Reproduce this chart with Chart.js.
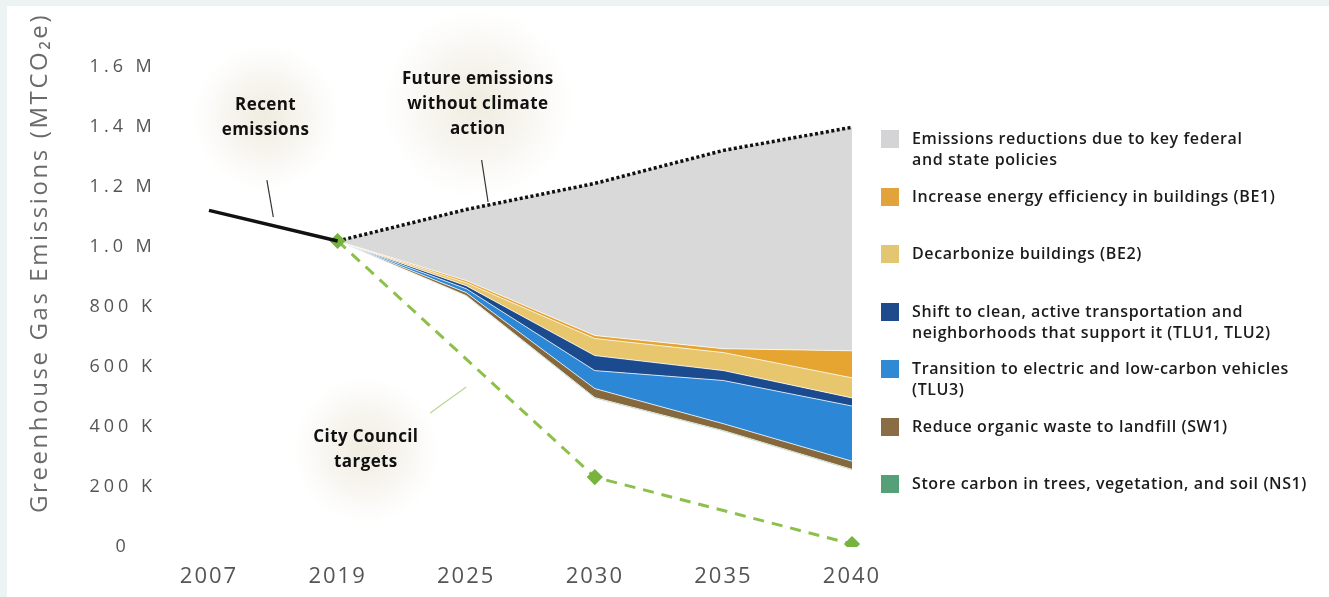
<!DOCTYPE html>
<html>
<head>
<meta charset="utf-8">
<title>Greenhouse gas emissions pathways</title>
<script src="https://cdn.jsdelivr.net/npm/chart.js@4.4.0/dist/chart.umd.min.js"></script>
<style>
  html, body { margin: 0; padding: 0; background: #edf2f2; }
  #wrap { position: relative; width: 1329px; height: 597px; overflow: hidden; }
  #frame { position: absolute; left: 7px; top: 6px; right: 0; bottom: 0; background: #fff; }
  #chart { position: absolute; left: 0; top: 0; }
  #legend {
    position: absolute; left: 880px; top: 128px; width: 445px;
    font-family: 'Open Sans', sans-serif; font-size: 16px; font-weight: 600; color: #1b1b1b;
    letter-spacing: 0.6px;
  }
  .item { display: flex; height: 57.5px; }
  .swatch { width: 18px; height: 18px; margin: 2px 13px 0 1px; flex: none; }
  .label { line-height: 21px; white-space: pre; }
</style>
</head>
<body>
<div id="wrap">
  <div id="frame"></div>
  <canvas id="chart" width="1329" height="597"></canvas>
  <div id="legend"></div>
</div>
<script>
// Years on the x axis and the y axis ticks
const years = ['2007', '2019', '2025', '2030', '2035', '2040'];
const yTicks = [0, 200000, 400000, 600000, 800000, 1000000, 1200000, 1400000, 1600000];

// Emission lines (MTCO2e)
const recentEmissions = [1122000, 1020000, null, null, null, null];
const noClimateAction = [null, 1020000, 1125000, 1212000, 1322000, 1399000];
const councilTargets = [null, 1020000, null, 233000, null, 10000];

// Reductions per measure, stacked down from the no-action line
const fedStatePolicies = [null, 0, 237000, 507000, 661000, 745000];
const energyEfficiency = [null, 0, 7000, 10000, 13000, 90000];
const decarbBuildings = [null, 0, 10000, 57000, 60000, 67000];
const activeTransport = [null, 0, 10000, 50000, 33000, 27000];
const electricVehicles = [null, 0, 13000, 60000, 144000, 184000];
const organicWaste = [null, 0, 10000, 30000, 23000, 27000];
const carbonStorage = [null, 0, 2000, 3000, 3000, 3000];

const wedges = [
  { label: 'Emissions reductions due to key federal\nand state policies', color: '#d9d9d9', swatch: '#d4d4d6', cut: fedStatePolicies },
  { label: 'Increase energy efficiency in buildings (BE1)', color: '#e6a431', swatch: '#e2a43a', cut: energyEfficiency },
  { label: 'Decarbonize buildings (BE2)', color: '#e8c66e', swatch: '#e3c672', cut: decarbBuildings },
  { label: 'Shift to clean, active transportation and\nneighborhoods that support it (TLU1, TLU2)', color: '#1c4a8e', swatch: '#1f4b8c', cut: activeTransport },
  { label: 'Transition to electric and low-carbon vehicles\n(TLU3)', color: '#2c88d6', swatch: '#2f8ad3', cut: electricVehicles },
  { label: 'Reduce organic waste to landfill (SW1)', color: '#86683d', swatch: '#8a6d45', cut: organicWaste },
  { label: 'Store carbon in trees, vegetation, and soil (NS1)', color: '#4f9f6e', swatch: '#55a077', cut: carbonStorage }
];

// each wedge fills from the line above it down to its own lower edge
let upper = noClimateAction;
const wedgeSets = wedges.map(w => {
  const lower = upper.map((v, i) => v === null ? null : v - w.cut[i]);
  upper = lower;
  return {
    label: w.label.replace('\n', ' '),
    data: lower,
    fill: '-1',
    backgroundColor: w.color,
    borderColor: 'rgba(255,255,255,0.75)',
    borderWidth: 1,
    pointRadius: 0,
    tension: 0
  };
});

// text callouts, placed in data space
const notes = [
  { lines: ['Recent', 'emissions'], x: 0.44, y: 1432000, halo: 74,
    leader: [[0.45, 1223000], [0.5, 1100000]], leaderColor: '#333' },
  { lines: ['Future emissions', 'without climate', 'action'], x: 2.09, y: 1477000, halo: 96,
    leader: [[2.12, 1290000], [2.17, 1150000]], leaderColor: '#333' },
  { lines: ['City Council', 'targets'], x: 1.22, y: 323000, halo: 74,
    leader: [[1.72, 447000], [2.0, 533000]], leaderColor: '#b7d890' }
];

const spacing = {
  id: 'spacing',
  beforeLayout(chart) { chart.ctx.letterSpacing = '2px'; },
  beforeDraw(chart) { chart.ctx.letterSpacing = '2px'; },
  afterLayout(chart) {
    // y tick labels are tracked wider than the year labels
    const s = chart.scales.y;
    if (s._tracked) return;
    const draw = s.drawLabels;
    s.drawLabels = function (area) {
      this.ctx.save();
      this.ctx.letterSpacing = '4px';
      draw.call(this, area);
      this.ctx.restore();
    };
    s._tracked = true;
  }
};

const callouts = {
  id: 'callouts',
  beforeDatasetsDraw(chart) {
    const { ctx, scales: { x, y } } = chart;
    ctx.save();
    notes.forEach(n => {
      const cx = x.getPixelForValue(n.x), cy = y.getPixelForValue(n.y);
      const g = ctx.createRadialGradient(cx, cy, 0, cx, cy, n.halo);
      g.addColorStop(0, 'rgba(232,227,210,0.7)');
      g.addColorStop(0.55, 'rgba(236,232,218,0.4)');
      g.addColorStop(1, 'rgba(240,238,230,0)');
      ctx.fillStyle = g;
      ctx.fillRect(cx - n.halo, cy - n.halo, n.halo * 2, n.halo * 2);
    });
    ctx.restore();
  },
  afterDatasetsDraw(chart) {
    const { ctx, scales: { x, y } } = chart;
    ctx.save();
    ctx.letterSpacing = '0.4px';
    ctx.font = "bold 17px 'Open Sans', sans-serif";
    ctx.textAlign = 'center';
    ctx.textBaseline = 'middle';
    notes.forEach(n => {
      const cx = x.getPixelForValue(n.x), cy = y.getPixelForValue(n.y);
      const lh = 25;
      ctx.fillStyle = '#111';
      n.lines.forEach((t, i) => {
        ctx.fillText(t, cx, cy + (i - (n.lines.length - 1) / 2) * lh);
      });
      ctx.strokeStyle = n.leaderColor;
      ctx.lineWidth = 1.2;
      ctx.beginPath();
      ctx.moveTo(x.getPixelForValue(n.leader[0][0]), y.getPixelForValue(n.leader[0][1]));
      ctx.lineTo(x.getPixelForValue(n.leader[1][0]), y.getPixelForValue(n.leader[1][1]));
      ctx.stroke();
    });
    ctx.restore();
  },
  afterDraw(chart) {
    // rotated y axis title
    const ctx = chart.ctx;
    ctx.save();
    ctx.letterSpacing = '2.6px';
    ctx.translate(40, 263);
    ctx.rotate(-Math.PI / 2);
    ctx.font = "24px 'Open Sans', sans-serif";
    ctx.fillStyle = '#6a6a6a';
    ctx.textAlign = 'center';
    ctx.textBaseline = 'middle';
    ctx.fillText('Greenhouse Gas Emissions (MTCO\u2082e)', 0, 0);
    ctx.restore();
  }
};

Chart.defaults.font.family = "'Open Sans', sans-serif";
Chart.defaults.color = '#555';

new Chart(document.getElementById('chart'), {
  type: 'line',
  data: {
    labels: years,
    datasets: [
      {
        label: 'Recent emissions',
        data: recentEmissions,
        borderColor: '#111',
        borderWidth: 3.5,
        pointRadius: 0,
        fill: false
      },
      {
        label: 'City Council targets',
        data: councilTargets,
        borderColor: '#8cc04a',
        borderWidth: 3,
        borderDash: [11, 8],
        spanGaps: true,
        pointStyle: 'rectRot',
        pointRadius: 6,
        pointBackgroundColor: '#77b33f',
        pointBorderColor: '#77b33f',
        fill: false
      },
      {
        label: 'Future emissions without climate action',
        data: noClimateAction,
        borderColor: '#111',
        borderWidth: 3.5,
        borderDash: [3, 2.5],
        pointRadius: 0,
        fill: false
      },
      ...wedgeSets
    ]
  },
  options: {
    responsive: false,
    animation: false,
    layout: { padding: { top: 67, right: 477, bottom: 0, left: 0 } },
    plugins: {
      legend: { display: false },
      tooltip: { enabled: false }
    },
    scales: {
      x: {
        afterFit(scale) { scale.height = 50; },
        grid: { display: false, drawTicks: false },
        border: { display: false },
        ticks: { font: { size: 22 }, color: '#555', padding: 17, maxRotation: 0 }
      },
      y: {
        min: 0,
        max: 1600000,
        afterFit(scale) {
          // fixed axis width; the wide tick padding should not pad the plot top/bottom
          scale.width = 209;
          scale.paddingTop = 0;
          scale.paddingBottom = 0;
        },
        afterBuildTicks(scale) { scale.ticks = yTicks.map(v => ({ value: v })); },
        grid: { display: false, drawTicks: false },
        border: { display: false },
        ticks: {
          font: { size: 18 },
          color: '#555',
          padding: 58,
          crossAlign: 'center',
          callback: v => v === 0 ? '0' : v >= 1000000 ? (v / 1000000).toFixed(1) + ' M' : (v / 1000) + ' K'
        }
      }
    }
  },
  plugins: [spacing, callouts]
});

// legend built from the wedge list
document.getElementById('legend').innerHTML = wedges.map(w => `
  <div class="item">
    <div class="swatch" style="background:${w.swatch}"></div>
    <div class="label">${w.label}</div>
  </div>`).join('');
</script>
</body>
</html>
